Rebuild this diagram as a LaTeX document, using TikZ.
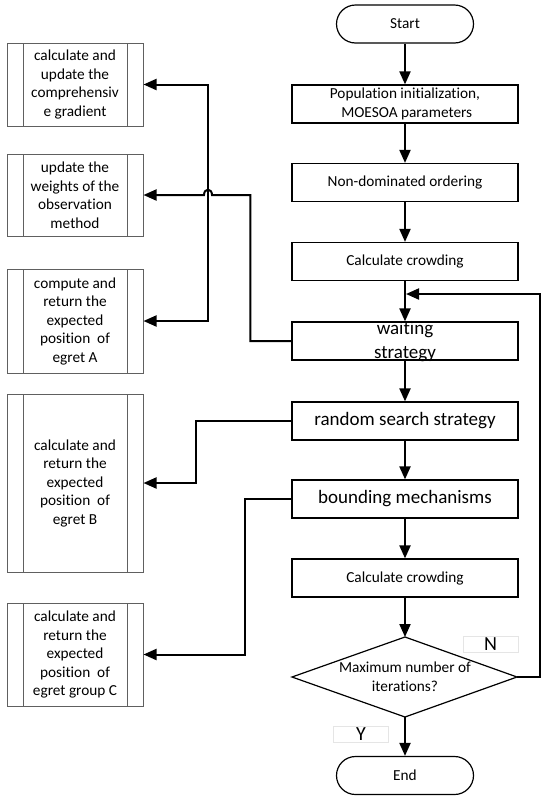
\documentclass[tikz,border=0pt]{standalone}
\usepackage{fontspec}
\setmainfont[RawFeature={-liga;-clig;-dlig}]{Carlito}
\newcommand{\tI}{t\kern0pt i}
\usetikzlibrary{arrows.meta}
\begin{document}
\begin{tikzpicture}[x=1pt,y=-1pt,
  base/.style={font=\fontsize{15.3}{18.5}\selectfont, align=center, inner sep=0pt},
  proc/.style={base, draw, line width=1.2pt, minimum width=226pt, minimum height=38pt},
  term/.style={base, draw, line width=1.2pt, rounded corners=19pt, minimum width=137pt, minimum height=38pt},
  subr/.style={base, draw=gray!75!black, line width=1pt, minimum width=136pt,
    path picture={\draw[gray!75!black, line width=1pt]
      ([xshift=16pt]path picture bounding box.north west) -- ([xshift=16pt]path picture bounding box.south west)
      ([xshift=-16pt]path picture bounding box.north east) -- ([xshift=-16pt]path picture bounding box.south east);}},
  conn/.style={line width=2pt, -{Triangle[length=13pt,width=11pt]}},
  conn2/.style={line width=2pt, {Triangle[length=13pt,width=11pt]}-{Triangle[length=13pt,width=11pt]}},
  big/.style={font=\fontsize{19}{24}\selectfont, align=center, inner sep=0pt},
  lab/.style={draw=gray!20, line width=0.8pt, minimum width=55pt, minimum height=16pt, inner sep=0pt, font=\fontsize{20}{20}\selectfont}
]
\useasboundingbox (0,0) rectangle (550,801);

% right column
\node[term] (start) at (405,24) {Start};
\node[proc] (init) at (405,104) {Popula\tI on ini\tI aliza\tI on,\\ \ MOESOA parameters};
\node[proc] (nondom) at (405,182.5) {Non-dominated ordering};
\node[proc] (crowd1) at (405,261.5) {Calculate crowding};
\node[proc] (wait) at (405,341) {};
\node[big] (waittxt) at (405,342) {wai\tI ng\\strategy};
\node[proc, big, draw, line width=1.2pt, minimum width=226pt, minimum height=38pt] (rand) at (405,421) {random search strategy};
\node[proc, big, draw, line width=1.2pt, minimum width=226pt, minimum height=38pt] (bound) at (405,499) {bounding mechanisms};
\node[proc] (crowd2) at (405,578) {Calculate crowding};
\coordinate (dtop) at (405,637);
\coordinate (dright) at (517,677);
\coordinate (dbot) at (405,717);
\coordinate (dleft) at (292,677);
\draw[line width=1.2pt] (dtop) -- (dright) -- (dbot) -- (dleft) -- cycle;
\node[base] (diatxt) at (405,676.5) {Maximum number of\\itera\tI ons?};
\node[term] (end) at (405,775.5) {End};
\node[lab] (nlab) at (490.5,644) {N};
\node[lab] (ylab) at (361,734) {Y};

% left column
\node[subr, minimum height=83pt] (b1) at (75,84.5) {calculate and\\update the\\comprehensiv\\e gradient};
\node[subr, minimum height=82pt] (b2) at (75,195) {update the\\weights of the\\observa\tI on\\method};
\node[subr, minimum height=104pt] (b3) at (75,321) {compute and\\return the\\expected\\posi\tI on \ of\\egret A};
\node[subr, minimum height=178pt] (b4) at (75,483) {calculate and\\return the\\expected\\posi\tI on \ of\\egret B};
\node[subr, minimum height=103pt] (b5) at (75,654.5) {calculate and\\return the\\expected\\posi\tI on \ of\\egret group C};

% main flow
\coordinate (loopin) at (406,294);
\draw[conn] (start) -- (init);
\draw[conn] (init) -- (nondom);
\draw[conn] (nondom) -- (crowd1);
\draw[conn] (crowd1) -- (wait);
\draw[conn] (wait) -- (rand);
\draw[conn] (rand) -- (bound);
\draw[conn] (bound) -- (crowd2);
\draw[conn] (crowd2) -- (dtop);
\draw[conn] (dbot) -- (end);
\draw[conn] (dright) -- ++(23,0) |- (loopin);

% side connectors
\coordinate (hopR) at (212,195);
\coordinate (hopL) at (204,195);
\draw[conn2] (b1.east) -| (208,200) |- (b3.east);
\draw[conn] (wait.west) -- ++(-41,0) |- (hopR) .. controls +(0,-7) and +(0,-7) .. (hopL) -- (b2.east);
\draw[conn] (rand.west) -- ++(-95,0) |- (b4.east);
\draw[conn] (bound.west) -- ++(-46,0) |- (b5.east);
\end{tikzpicture}
\end{document}
